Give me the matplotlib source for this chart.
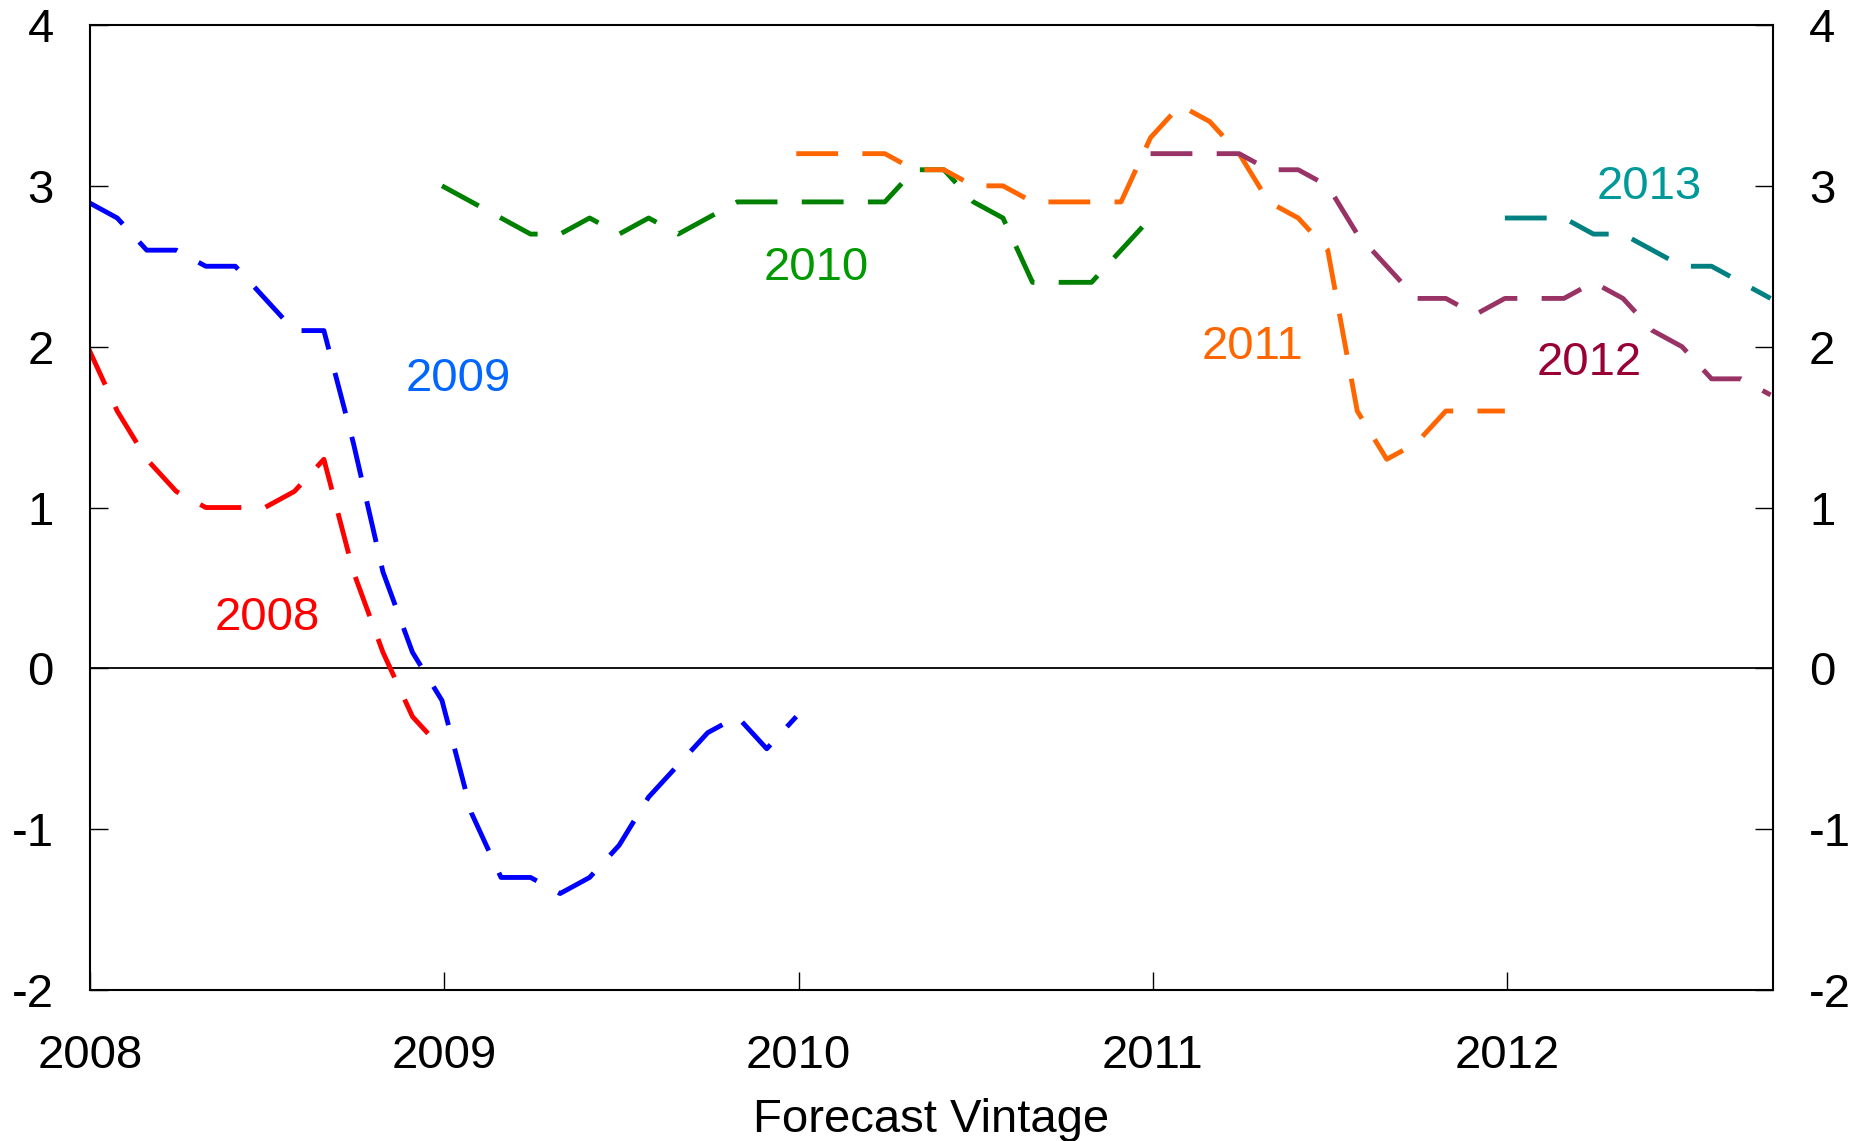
import matplotlib
matplotlib.use("Agg")
import matplotlib.pyplot as plt
import numpy as np

plt.rcParams["font.family"] = ["Liberation Sans", "DejaVu Sans"]

# monthly forecast vintages, each list starts at the given (year, month index)
start2008 = (2008, 0)
f2008 = [2.0, 1.6, 1.3, 1.1, 1.0, 1.0, 1.0, 1.1, 1.3, 0.6, 0.1, -0.3, -0.5]

start2009 = (2008, 0)
f2009 = [2.9, 2.8, 2.6, 2.6, 2.5, 2.5, 2.3, 2.1, 2.1, 1.4, 0.6, 0.1,
         -0.2, -0.9, -1.3, -1.3, -1.4, -1.3, -1.1, -0.8, -0.6, -0.4, -0.3, -0.5,
         -0.3]

start2010 = (2009, 0)
f2010 = [3.0, 2.9, 2.8, 2.7, 2.7, 2.8, 2.7, 2.8, 2.7, 2.8, 2.9, 2.9,
         2.9, 2.9, 2.9, 2.9, 3.1, 3.1, 2.9, 2.8, 2.4, 2.4, 2.4, 2.6,
         2.8]

start2011 = (2010, 0)
f2011 = [3.2, 3.2, 3.2, 3.2, 3.1, 3.1, 3.0, 3.0, 2.9, 2.9, 2.9, 2.9,
         3.3, 3.5, 3.4, 3.2, 2.9, 2.8, 2.6, 1.6, 1.3, 1.4, 1.6, 1.6,
         1.6]

start2012 = (2011, 0)
f2012 = [3.2, 3.2, 3.2, 3.2, 3.1, 3.1, 3.0, 2.7, 2.5, 2.3, 2.3, 2.2,
         2.3, 2.3, 2.3, 2.4, 2.3, 2.1, 2.0, 1.8, 1.8, 1.7]

start2013 = (2012, 0)
f2013 = [2.8, 2.8, 2.8, 2.7, 2.7, 2.6, 2.5, 2.5, 2.4, 2.3]

lineColors = ["#FF0000", "#0000FF", "#008000", "#FF6600", "#993366", "#008080"]
textColors = ["#FF0000", "#0066FF", "#009900", "#FF6600", "#990033", "#009999"]
names = ["2008", "2009", "2010", "2011", "2012", "2013"]
labelX = [2008.50, 2009.04, 2010.05, 2011.28, 2012.23, 2012.40]
labelY = [0.31, 1.80, 2.49, 2.00, 1.90, 2.99]

# survey dates fall a couple of days before the first of the month
SHIFT = 0.08


def toYears(start, n):
    year, month = start
    return year + (np.arange(n) + month - SHIFT) / 12.0


fig = plt.figure(figsize=(18.53, 11.41), dpi=100)
ax = fig.add_axes([0.0486, 0.1323, 0.9082, 0.8458])

starts = [start2008, start2009, start2010, start2011, start2012, start2013]
series = [f2008, f2009, f2010, f2011, f2012, f2013]

ax.axhline(0, color="black", lw=1.3, zorder=1)

for st, vals, col in zip(starts, series, lineColors):
    ax.plot(toYears(st, len(vals)), vals, color=col, lw=3.5,
            dashes=(8.6, 5.0), zorder=2)

for name, x, y, col in zip(names, labelX, labelY, textColors):
    ax.text(x, y, name, color=col, fontsize=34, ha="center", va="center")

ax.set_xlim(2008, 2012.75)
ax.set_ylim(-2, 4)
ax.set_xticks([2008, 2009, 2010, 2011, 2012])
ax.set_xticklabels(["2008", "2009", "2010", "2011", "2012"])
ax.set_yticks(range(-2, 5))
ax.set_yticklabels([str(v) for v in range(-2, 5)])

ax.tick_params(axis="x", direction="in", length=13, width=1, labelsize=34, pad=32)
ax.tick_params(axis="y", direction="in", length=13, width=1, labelsize=34, pad=26,
               right=True, labelright=True)

for sp in ax.spines.values():
    sp.set_linewidth(1.5)

ax.set_xlabel("Forecast Vintage", fontsize=34, labelpad=14)

fig.savefig("out.png", dpi=100)
